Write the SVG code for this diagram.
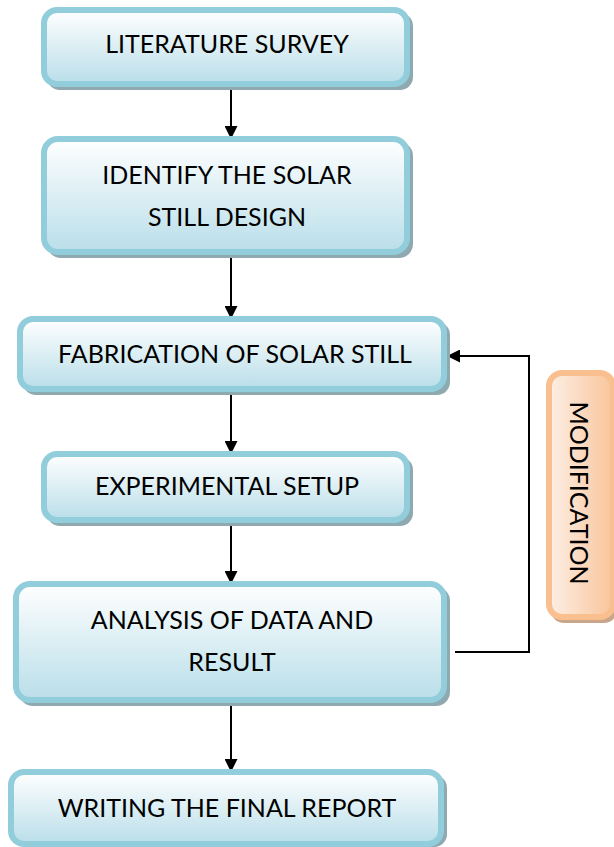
<svg xmlns="http://www.w3.org/2000/svg" width="614" height="847" viewBox="0 0 614 847">
  <defs>
    <linearGradient id="blueFill" x1="0" y1="0" x2="0" y2="1">
      <stop offset="0" stop-color="#FFFFFF"/>
      <stop offset="1" stop-color="#B9DEE9"/>
    </linearGradient>
    <linearGradient id="peachFill" x1="0" y1="0" x2="1" y2="0">
      <stop offset="0" stop-color="#FDEFE6"/>
      <stop offset="1" stop-color="#F9C59A"/>
    </linearGradient>
    <marker id="arrow" markerWidth="13" markerHeight="13" refX="12" refY="6.5" orient="auto" markerUnits="userSpaceOnUse">
      <path d="M0,0 L13,6.5 L0,13 Z" fill="#000"/>
    </marker>
  </defs>
  <style>
    .shadow { fill: #8FA9B0; }
    .box { fill: url(#blueFill); stroke: #92CDDC; stroke-width: 6; }
    .mod { fill: url(#peachFill); stroke: #F9BF8F; stroke-width: 6; }
    .modshadow { fill: #C9A58A; }
    .label { font-family: Lato, "Liberation Sans", sans-serif; font-size: 25px; fill: #000; text-anchor: middle; }
    .wire { stroke: #000; stroke-width: 2; fill: none; }
  </style>

  <rect width="614" height="847" fill="#FFFFFF"/>

  <!-- connectors -->
  <g id="connectors">
    <line class="wire" x1="231" y1="87" x2="231" y2="138" marker-end="url(#arrow)"/>
    <line class="wire" x1="231" y1="255" x2="231" y2="318" marker-end="url(#arrow)"/>
    <line class="wire" x1="231" y1="392" x2="231" y2="453" marker-end="url(#arrow)"/>
    <line class="wire" x1="231" y1="523" x2="231" y2="583" marker-end="url(#arrow)"/>
    <line class="wire" x1="231" y1="703" x2="231" y2="771" marker-end="url(#arrow)"/>
    <polyline class="wire" points="455,652 529,652 529,356 448,356" marker-end="url(#arrow)"/>
  </g>

  <!-- LITERATURE SURVEY -->
  <g id="literature-survey">
    <rect class="shadow" x="47" y="13" width="366" height="77" rx="13"/>
    <rect class="box" x="44" y="10" width="363" height="74" rx="13"/>
    <text class="label" x="227" y="53">LITERATURE SURVEY</text>
  </g>

  <!-- IDENTIFY THE SOLAR STILL DESIGN -->
  <g id="identify-design">
    <rect class="shadow" x="47" y="142" width="366" height="116" rx="14"/>
    <rect class="box" x="44" y="139" width="363" height="113" rx="14"/>
    <text class="label" x="227" y="184">IDENTIFY THE SOLAR</text>
    <text class="label" x="227" y="226">STILL DESIGN</text>
  </g>

  <!-- FABRICATION OF SOLAR STILL -->
  <g id="fabrication">
    <rect class="shadow" x="23" y="322" width="427" height="73" rx="13"/>
    <rect class="box" x="20" y="319" width="424" height="70" rx="13"/>
    <text class="label" x="235" y="363">FABRICATION OF SOLAR STILL</text>
  </g>

  <!-- EXPERIMENTAL SETUP -->
  <g id="experimental-setup">
    <rect class="shadow" x="47" y="457" width="366" height="69" rx="13"/>
    <rect class="box" x="44" y="454" width="363" height="66" rx="13"/>
    <text class="label" x="227" y="495">EXPERIMENTAL SETUP</text>
  </g>

  <!-- ANALYSIS OF DATA AND RESULT -->
  <g id="analysis">
    <rect class="shadow" x="19" y="587" width="431" height="119" rx="14"/>
    <rect class="box" x="16" y="584" width="428" height="116" rx="14"/>
    <text class="label" x="232" y="629">ANALYSIS OF DATA AND</text>
    <text class="label" x="232" y="671">RESULT</text>
  </g>

  <!-- WRITING THE FINAL REPORT -->
  <g id="final-report">
    <rect class="shadow" x="14" y="775" width="433" height="72" rx="13"/>
    <rect class="box" x="11" y="772" width="430" height="72" rx="13"/>
    <text class="label" x="227" y="817">WRITING THE FINAL REPORT</text>
  </g>

  <!-- MODIFICATION -->
  <g id="modification">
    <rect class="modshadow" x="551" y="376" width="66" height="247" rx="13"/>
    <rect class="mod" x="549" y="373" width="64" height="244" rx="13"/>
    <text class="label" transform="translate(570,493) rotate(90)" x="0" y="0">MODIFICATION</text>
  </g>
</svg>
